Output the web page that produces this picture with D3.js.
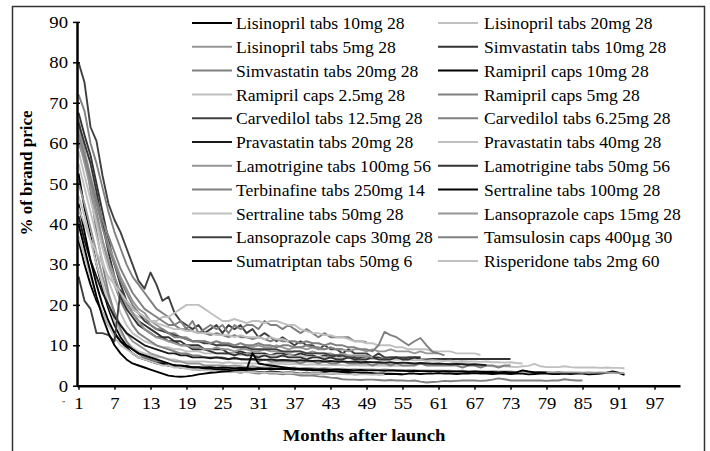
<!DOCTYPE html>
<html>
<head>
<meta charset="utf-8">
<script src="https://cdnjs.cloudflare.com/ajax/libs/d3/7.8.5/d3.min.js"></script>
<style>
    body { margin: 0; background: #fff; }
    text { font-family: "Liberation Serif", "Times New Roman", serif; fill: #000; }
</style>
</head>
<body>
<div id="chart"></div>
<script>
// % of brand price, one value per month after launch (month 1 first)
let lisinopril10 = [52.5,44,37,30,24,19,15,12,10,9,8,7,6.5,6,5.5,5,5,4.5,4.5,4.5,
    4,4,4,3.8,3.8,3.5,3.5,3.6,3.5,3.5, 3.4,3.3,3.5,3.4,3.2,3.3,3.2,3,3.2,3,
    3,3.1,3,2.9,3,3,2.8,2.9,3,3, 2.8,2.9,3,2.9,2.8,3,3,2.9,3,3,
    3.1,3,3,2.9,3,3,3.1,3,3,2.9, 3,3,2.9,3,3,2.8,2.9,3,3,2.9,
    2.9,3,2.9,3,3,2.8,2.9,3,3.2,3.5,3.2,2.7];
let lisinopril20 = [47,42,36,30,25,20,16,13,11,9.5,8.5,8,7.5,7,7,6.5,6.5,6,6,6,
    6,6,5.8,5.8,5.6,5.8,5.6,5.5,5.6,5.5, 5.5,5.4,5.5,5.4,5.4,5.3,5.4,5.3,5.2,5.3,
    5.2,5.2,5.1,5.2,5.1,5,5.1,5,5,5, 5,5,4.9,5,4.9,5,5.2,5.5,5.8,5.6,
    5.4,5.2,5.5,5.8,5.6,5.5,5.2,5,4.9,4.8, 4.8,4.8,4.7,4.6,4.8,4.9,5.4,4.8,4.6,4.6,
    4.6,4.8,4.6,4.5,4.5,4.5,4.5,4.4,4.5,4.4,4.4,4.3];
let lisinopril5 = [50,45,39,33,27,22,18,15,13,11,10,9,8,7.5,7,6.5,6,6,5.5,5.5,
    5.5,5,5,5,5,4.8,5,4.8,4.6,4.8, 4.6,4.5,4.6,4.5,4.5,4.4,4.5,4.3,4.4,4.3,
    4.2,4.3,4.2,4.1,4.2,4,4.1,4,4,4, 3.9,4,3.9,3.9,3.8,3.9,3.8,3.8,3.8,3.7,
    3.8,3.7,3.7,3.6,3.7,3.6,3.6,3.6,3.5,3.6, 3.5,3.5,3.5,3.4,3.5,3.4,3.4,3.4,3.4,3.3,
    3.4,3.3,3.3,3.3,3.2,3.3,3.2,3.3,3.2,3.2,3.1,3.1];
let simvastatin10 = [67.5,62,57,50,43,36,30,25,21,18,16,15,14,13,12,12,11,11,10,10,
    10,9,9,9,9,8,8,8.5,8,8, 8,8,7.5,8,8,7.5,7.5,8,7.5,7.5,
    7,7.5,7,7.5,7,7,7,7,7,7, 7,6.5,7,7,6.5,7,7,6.5,6.5,6.6,
    6.6,6.6,6.6,6.6,6.6,6.6,6.6,6.6,6.6,6.6,6.6,6.6,6.6];
let simvastatin20 = [66,58,48,38,30,23,18,14,11,9,8,7,6.5,6,5.5,5,5,4.5,4.5,4,
    4,4,3.8,3.8,3.5,3.5,3.5,3.2,3.5,3.2,3,3.2,3,3,2.8,3,2.8,2.5,2.6,2.5,2.3,2.2,2,
    1.9,1.6,1.5,1.5,1.4,1.5,1.5,1.4,1.3,1.4, 1.3,1.3,1.2,1.3,1.0,0.8,0.9,1.0,1.2,1.1,
    1.2,1.3,1.3,1.3,1.2,1.3,1.5,1.8,1.6,1.3, 1.3,1.3,1.3,1.3,1.3,1.2,1.3,1.3,1.6,1.4,1.3,1.3];
let ramipril10 = [36,30,25,21,18,15,13,11,9.5,8,7,6.5,6,5.5,5.5,5,5,4.8,4.8,4.6,
    4.6,4.5,4.6,4.4,4.5,4.4,4.3,4.4,4.3,4.2, 4.3,4.2,4.2,4.1,4.2,4.1,4,4.1,4,4,
    4,4,3.9,4,3.9,3.9,3.8,3.9,3.8,3.8, 3.8,3.7,3.8,3.7,3.7,3.6,3.7,3.6,3.6,3.6,
    3.5,3.6,3.5,3.5,3.5,3.4,3.5,3.4,3.4,3.4, 3.3,3.4,3.3,3.3,3.8,3.5,3.3,3.3,3.2];
let ramipril25 = [55,49,43,37,31,26,22,18,15,13,12,11,10.5,10,9.5,9.5,9,9,8.5,8.5,
    8.5,8,8,8,8,7.8,8,7.6,7.8,7.6, 7.5,7.6,7.4,7.5,7.3,7.4,7.2,7.3,7.2,7,
    7.2,7,7,6.8,7,6.8,6.8,6.6,6.8,6.6, 6.6,6.5,6.6,6.4,6.5,6.4,6.3,6.4,6.2,6.3,
    6.2,6.1,6.2,6,6.1,6,6,5.9,6,5.8, 5.8,5.7,5.8,5.6,5.5];
let ramipril5 = [63,57,50,43,36,30,25,21,18,15,13,12,11,10,9.5,9,8.5,8,8,7.5,
    7.5,7,7,7,7,6.5,7,6.5,6.5,6.5, 6,6.5,6,6,6,6,6,5.5,6,6,
    5.5,6,5.5,5.5,6,5.5,5.5,5.5,5.5,5, 5.5,5.5,5,5.5,5,5,5,5.5,5,5,
    5,5,5,5,4.5,5,5,4.5,5,5, 4.5,5,5];
let carvedilol125 = [80,75,64,60.5,52,45,41,38,34,30,26,24,28,25,21,22,18,16,15,14,
    15,13,14,15,13,15,14,15,13,14, 12,13,12,11,12,11,10,11,10,10,
    9,10,9,9,8,9,8,8,8,7, 8,7,7,7,7,7,7,7];
let carvedilol625 = [72,68,60,55,49,43,38,34,30,27,25,23,21,19,18,17,15,16,14,16,
    13,14,15,14,15,13,15,14,15,15, 14,16,15,15,14,15,14,13,14,13,
    12,13,12,12,12,12,11,11,10.8];
let pravastatin20 = [42,36,31,27,23,20,17,15,13,12,11,10,9.5,9,8.5,8,8,7.5,7.5,7,
    7,7,6.8,7,6.8,6.6,6.8,6.6,6.5,6.6, 6.5,6.4,6.5,6.3,6.4,6.3,6.2,6.3,6.2,6.1,
    6.2,6,6.1,6,6,5.9,6,5.8,5.9,5.8, 5.8,5.7,5.8,5.6,5.7,5.6,5.5,5.6,5.5,5.4,
    5.5,5.4,5.3,5.4,5.3,5.2,5.3,5.2,5.1];
let pravastatin40 = [58,52,46,40,34,29,25,22,20,18,17,16.5,16,16,17,17,18,19,20,20,
    20,19,18,17,16,16,16.5,16,15.5,16, 16,15.5,16,16,15.5,15,15,14,13.5,13,
    13,12.5,12.5,12,12,11.5,11,11,10.5,10.5, 10,10,10,9.5,9.5,9,9,9,9,8.5,
    8.5,8.5,8.5,8,8,8,8,7.6];
let lamotrigine100 = [64,58,52,46,40,35,31,27,24,21,19,18,16,15,14,13,13,12,12,11,
    11,11,10.5,10,10.5,10,10,9.5,10,9.5, 10,9.5,9.5,10,9.5,9,9.5,9.5,9,9.5,
    9,9,9.5,9,9,8.5,9,9,8.5,9, 8.5,8.5,9,8.5,8.5,8.5,8,8.5,8,8,8];
let lamotrigine50 = [65,60,55,48,40,33,27,22,19,17,15,14,13,12,12,11,11,10,10,9,
    9,9,8.5,8,8,8,7.5,8,7.5,7.5, 7,7.5,7,7,7.5,7,7,7,6.5,7,
    7,6.5,7,6.5,6.5,7,6.5,6.5,6.5,7, 6.5,6.5,6.5,7,6.5,6.5,7,7];
let terbinafine250 = [60,56,51,46,41,37,33,29,26,23,21,19,18,17,16,15,15,14,14,13.5,
    13,13,12.5,13,12.5,12,12.5,12,12,11.5, 12,11.5,11,11.5,11,11,11,10.5,11,10.5,
    10.5,10,10.5,10,10,9.5,9.5,9,9,8.5, 10,13.3,12.5,12,11,10,11,11.8,10,8.4,8,7.5];
let sertraline100 = [45,38,31,25,20,16,13,11,10,9,8,7.5,7,6.5,6,5.5,5,5,4.8,4.5,
    4.5,4.3,4.2,4,4,3.9,3.8,3.8,3.9,8.1, 5.5,5.2,5,4.8,4.6,4.4,4.2,4,4,3.8,
    3.8,3.6,3.6,3.5,3.4,3.4,3.3,3.2,3.2,3.1, 3,3,2.9,2.9,2.8];
let sertraline50 = [37,32,27,22,18,15,12,10,9,8,7,6.5,6,5.5,5,5,4.5,4.5,4.2,4,
    4,3.8,3.8,3.6,3.6,3.5,3.4,3.5,3.3,3.4, 3.3,3.2,3.3,3.2,3.1,3.2,3.1,3,3.1,3,
    3,2.9,3,2.9,2.9,2.8,2.9,2.8,2.8,2.7, 2.8,2.7];
let lansoprazole15 = [61,55,49,42,36,31,27,23,20,18,16,14,13,12,11.5,11,10.5,10,10,9.5,
    9.5,9,9,9.5,9,9,8.5,9,9,8.5, 8.5,9,8.5,8.5,8.5,8,8.5,8.5,8,8.5,
    8,8,8,7.5,8,7.5,7.5,7.5,7.5,7];
let lansoprazole30 = [27,21,19,13,13,12.5,11,23.6,21,19,18,16,15,14,13.5,13,12.5,12,11.5,11,
    11,10.5,10.5,10,10,10,9.5,9.5,9.5,9, 9,9,9,9,8.5,8.5,8.5,8.5,8,8,
    8,8,7.5,7.5,7.5,7,7,6.5];
let tamsulosin400 = [62,57,51,45,39,34,30,26,23,20,18,17,15,14,14,13,12,12,11.5,11,
    11,11,10.5,11,10.5,10.5,10,10.5,10,10, 10.5,10,10,9.5,10,10,9.5,9.5,10,9.5,
    9.5,9,9.5,9,9];
let sumatriptan50 = [40,34,28,22,17,13,10,8,6.5,5.5,5,4.5,4,3.5,3,2.5,2.3,2.2,2.3,2.5,
    2.8,3,3.2,3.3,3.5,3.6,3.8,3.9,4,4, 4.1,4.1,4.2,4.1,4.2,4.1,4.2,4.1,4,4];
let risperidone2 = [44,40,36,33,30,27,25,23,21,19,18,17,16,15.5,15,14.5,14,14,13.5,13.5,
    13,13,13,12.5,12.5,12.5,12,12.5,12,12, 12,11.5,12,11.5,11.5,11];

// legend order (Excel lists two columns, row by row)
let seriesNames = [
    "Lisinopril tabs 10mg 28", "Lisinopril tabs 20mg 28",
    "Lisinopril tabs 5mg 28", "Simvastatin tabs 10mg 28",
    "Simvastatin tabs 20mg 28", "Ramipril caps 10mg 28",
    "Ramipril caps 2.5mg 28", "Ramipril caps 5mg 28",
    "Carvedilol tabs 12.5mg 28", "Carvedilol tabs 6.25mg 28",
    "Pravastatin tabs 20mg 28", "Pravastatin tabs 40mg 28",
    "Lamotrigine tabs 100mg 56", "Lamotrigine tabs 50mg 56",
    "Terbinafine tabs 250mg 14", "Sertraline tabs 100mg 28",
    "Sertraline tabs 50mg 28", "Lansoprazole caps 15mg 28",
    "Lansoprazole caps 30mg 28", "Tamsulosin caps 400\u00b5g 30",
    "Sumatriptan tabs 50mg 6", "Risperidone tabs 2mg 60"
];
let seriesValues = [
    lisinopril10, lisinopril20, lisinopril5, simvastatin10, simvastatin20, ramipril10,
    ramipril25, ramipril5, carvedilol125, carvedilol625, pravastatin20, pravastatin40,
    lamotrigine100, lamotrigine50, terbinafine250, sertraline100, sertraline50,
    lansoprazole15, lansoprazole30, tamsulosin400, sumatriptan50, risperidone2
];

let xTicks = [1, 7, 13, 19, 25, 31, 37, 43, 49, 55, 61, 67, 73, 79, 85, 91, 97];
let yTicks = [0, 10, 20, 30, 40, 50, 60, 70, 80, 90];

// grey shades, same order as the legend
let palette = [
    "#000000", "#c0c0c0", "#969696", "#333333", "#808080", "#000000",
    "#c0c0c0", "#808080", "#404040", "#808080", "#1a1a1a", "#c0c0c0",
    "#969696", "#333333", "#808080", "#000000", "#c0c0c0", "#969696",
    "#404040", "#808080", "#000000", "#c0c0c0"
];

// the original picture is a little stretched sideways, so are its axis texts
let stretch = "scale(1.1,1)";

let svg = d3.select("#chart")
    .append("svg")
    .attr("width", 710)
    .attr("height", 451);

// outer frame (runs off the bottom of the picture)
svg.append("rect")
    .attr("x", 12.5).attr("y", 6.5)
    .attr("width", 692).attr("height", 470)
    .attr("fill", "#fff")
    .attr("stroke", "#333")
    .attr("stroke-width", 1.5);

let x = d3.scaleLinear().domain([0.75, 101.25]).range([77, 680]);
let y = d3.scaleLinear().domain([0, 90]).range([385.7, 21.9]);

// lines
let line = d3.line()
    .x(function (d, i) { return x(i + 1); })
    .y(function (d) { return y(d); });

svg.append("g")
    .selectAll("path")
    .data(seriesValues)
    .enter()
    .append("path")
    .attr("d", line)
    .attr("fill", "none")
    .attr("stroke", function (d, i) { return palette[i]; })
    .attr("stroke-width", 1.9)
    .attr("stroke-linejoin", "round");

// Y axis
let yAxis = svg.append("g")
    .attr("transform", "translate(77,0)")
    .call(d3.axisLeft(y).tickValues(yTicks).tickSize(4).tickSizeOuter(0).tickPadding(5));

// X axis
let xAxis = svg.append("g")
    .attr("transform", "translate(0," + y(0) + ")")
    .call(d3.axisBottom(x).tickValues(xTicks).tickSize(4).tickSizeOuter(0).tickPadding(7));

[yAxis, xAxis].forEach(function (g) {
    g.select(".domain").attr("stroke", "#000").attr("stroke-width", 2.5);
    g.selectAll(".tick line").attr("stroke", "#000").attr("stroke-width", 1.5);
    g.selectAll(".tick text")
        .style("font-family", "'Liberation Serif', serif")
        .style("font-size", "17px")
        .attr("fill", "#000")
        .attr("transform", stretch);
});
// y ticks cross the axis, labels end near x = 68
yAxis.selectAll(".tick line").attr("x1", 3);
yAxis.selectAll(".tick text").attr("x", -9 / 1.1);

// stray mark left of the first month label
svg.append("text")
    .attr("x", 62).attr("y", 405)
    .style("font-size", "7px")
    .text("\u201d");

// axis titles
svg.append("text")
    .attr("transform", "translate(32,173) rotate(-90)")
    .attr("text-anchor", "middle")
    .style("font-size", "17px")
    .style("font-weight", "bold")
    .text("% of brand price");

svg.append("text")
    .attr("transform", "translate(364,441) " + stretch)
    .attr("text-anchor", "middle")
    .style("font-size", "17px")
    .style("font-weight", "bold")
    .text("Months after launch");

// legend, two columns
let legend = svg.append("g")
    .selectAll("g")
    .data(seriesNames)
    .enter()
    .append("g")
    .attr("transform", function (d, i) {
        let col = i % 2, row = Math.floor(i / 2);
        return "translate(" + (col === 0 ? 192 : 438) + "," + (23 + row * 23.8) + ")";
    });

legend.append("line")
    .attr("x1", 0).attr("x2", 40)
    .attr("stroke", function (d, i) { return palette[i]; })
    .attr("stroke-width", 2);

legend.append("text")
    .attr("x", function (d, i) { return i % 2 === 0 ? 44 : 46; })
    .attr("dy", "0.35em")
    .style("font-size", "17.6px")
    .text(function (d) { return d; });
</script>
</body>
</html>
